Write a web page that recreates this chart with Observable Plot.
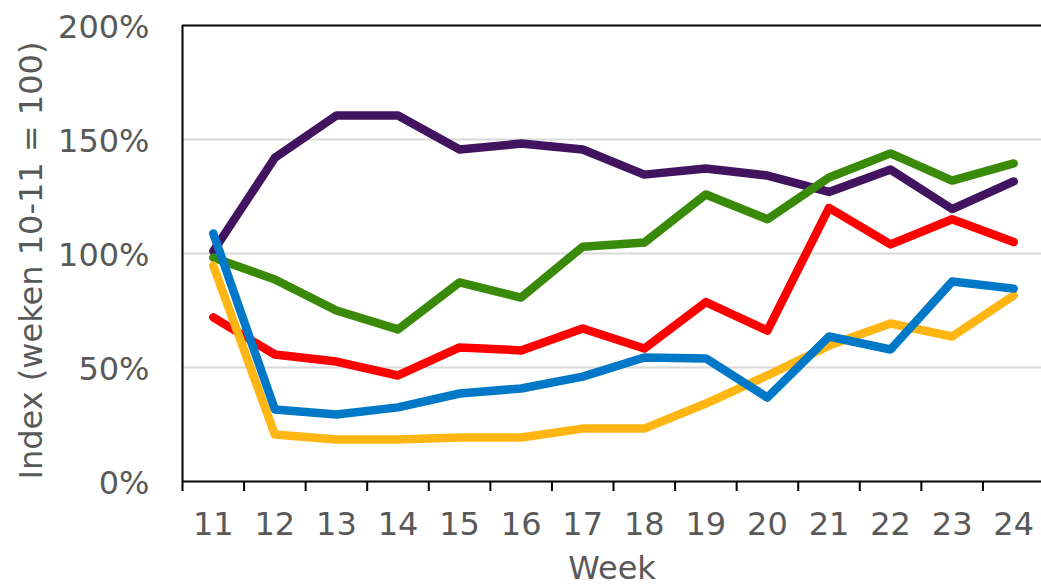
<!DOCTYPE html>
<html>
<head>
<meta charset="utf-8">
<script src="https://cdn.jsdelivr.net/npm/d3@7"></script>
<script src="https://cdn.jsdelivr.net/npm/@observablehq/plot@0.6"></script>
<style>
  html, body { margin: 0; padding: 0; background: #fff; }
  #chart svg { display: block; }
</style>
</head>
<body>
<div id="chart"></div>
<script>
const weeks = [11, 12, 13, 14, 15, 16, 17, 18, 19, 20, 21, 22, 23, 24];
const yTicks = [0, 50, 100, 150, 200];
const gridValues = [50, 100, 150];

const purple = [101, 142, 160.5, 160.5, 145.6, 148.2, 145.6, 134.6, 137.3, 134.2, 127, 136.8, 119.5, 131.6];
const green  = [98.2, 88.6, 75, 66.7, 87.3, 80.7, 103, 104.8, 125.9, 115, 133.3, 143.9, 132, 139.5];
const red    = [72, 55.7, 52.6, 46.5, 58.8, 57.5, 67.1, 58.3, 78.7, 66.2, 120, 104, 115, 105];
const yellow = [94.7, 20.6, 18.4, 18.4, 19.3, 19.3, 23.2, 23.2, 34.2, 46.5, 59.6, 69.3, 63.6, 81.6];
const blue   = [108.8, 31.6, 29.4, 32.5, 38.6, 40.8, 46, 54.4, 54, 36.8, 63.6, 57.9, 87.7, 84.6];

const seriesList = [
  {name: "reeks 1", values: purple, color: "#42145f"},
  {name: "reeks 2", values: green,  color: "#3a8a0a"},
  {name: "reeks 3", values: red,    color: "#ff0000"},
  {name: "reeks 4", values: yellow, color: "#ffb612"},
  {name: "reeks 5", values: blue,   color: "#0078c8"}
];

const rows = seriesList.flatMap(s => weeks.map((w, i) => ({series: s.name, week: w, value: s.values[i], color: s.color})));

// band boundaries between weeks (category axis ticks)
const boundaries = [weeks[0] - 0.5, ...weeks.map(w => w + 0.5)];

const chart = Plot.plot({
  width: 1041,
  height: 584,
  marginLeft: 182,
  marginRight: 0,
  marginTop: 25,
  marginBottom: 103,
  style: {fontFamily: "'DejaVu Sans', Verdana, sans-serif", fontSize: "32px", color: "#595959", background: "#fff"},
  x: {type: "linear", domain: [weeks[0] - 0.5, weeks[weeks.length - 1] + 0.5], range: [182, 1044]},
  y: {domain: [0, 200], range: [481, 25]},
  marks: [
    Plot.ruleY(gridValues, {stroke: "#d9d9d9", strokeWidth: 2}),
    Plot.ruleY([200], {stroke: "#000", strokeWidth: 2}),
    ...seriesList.map(s => Plot.line(rows.filter(r => r.series === s.name), {
      x: "week", y: "value", stroke: s.color, strokeWidth: 8.5,
      strokeLinecap: "round", strokeLinejoin: "round"
    })),
    Plot.ruleY([0], {stroke: "#000", strokeWidth: 2}),
    Plot.ruleX([boundaries[0]], {y1: 0, y2: 200, stroke: "#000", strokeWidth: 2}),
    Plot.axisX({ticks: boundaries, tickFormat: () => "", tickSize: 10, stroke: "#000", strokeWidth: 2, label: null}),
    Plot.axisX({ticks: weeks, tickSize: 0, tickPadding: 31, tickFormat: d => String(d), fill: "#595959", fontSize: 32, label: null}),
    Plot.axisY({ticks: yTicks, tickSize: 0, tickPadding: 33, tickFormat: d => d + "%", fill: "#595959", fontSize: 32, label: null, dy: 2}),
    Plot.text(["Index (weken 10-11 = 100)"], {frameAnchor: "left", textAnchor: "middle", lineAnchor: "middle", rotate: -90, dx: -151, dy: 7, fontSize: 32, fill: "#595959"}),
    Plot.text(["Week"], {frameAnchor: "bottom", lineAnchor: "top", dy: 75, fontSize: 32, fill: "#595959"})
  ]
});
document.getElementById("chart").appendChild(chart);
</script>
</body>
</html>
